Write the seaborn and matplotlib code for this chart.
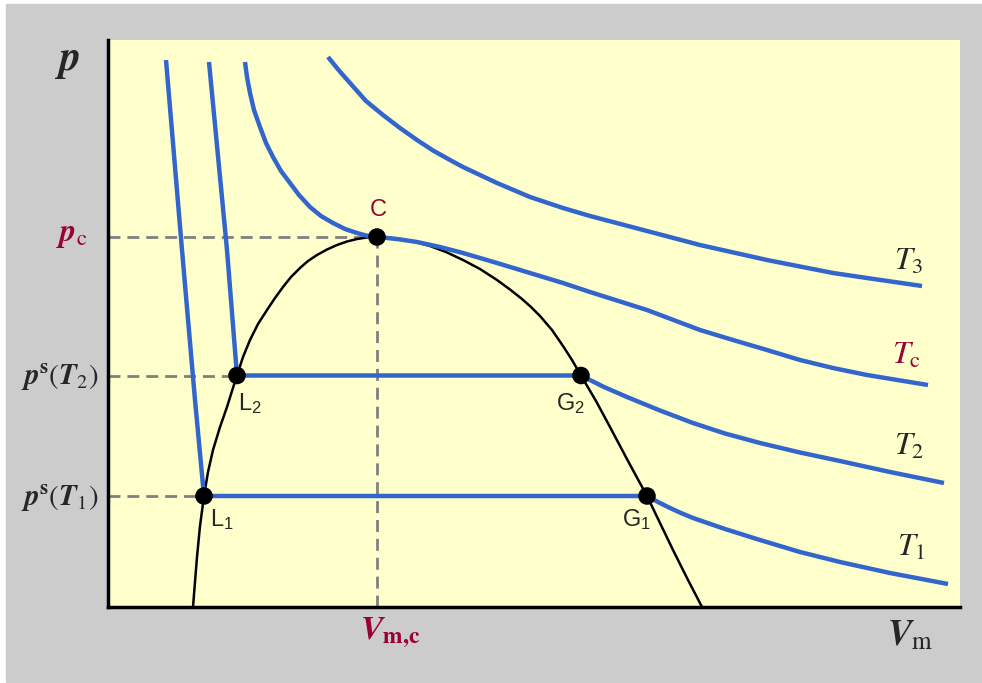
import matplotlib
matplotlib.use("Agg")
import matplotlib.pyplot as plt
import seaborn as sns
from matplotlib.patches import Rectangle

# --- data (V and p in arbitrary units) ---
# isotherm T1: liquid branch, then gas branch (joined by the tie line L1-G1)
t1_liq_v = [0.58, 0.74, 0.87, 0.96]
t1_liq_p = [5.47, 3.57, 2.07, 1.11]
t1_gas_v = [5.39, 5.50, 5.62, 5.73, 5.85, 6.17, 6.52, 6.92, 7.32, 7.82, 8.40]
t1_gas_p = [1.11, 1.05, 0.99, 0.94, 0.89, 0.78, 0.67, 0.55, 0.45, 0.34, 0.23]

# isotherm T2
t2_liq_v = [1.01, 1.19, 1.29]
t2_liq_p = [5.45, 3.57, 2.315]
t2_gas_v = [4.73, 4.96, 5.19, 5.52, 5.85, 6.17, 6.52, 6.92, 7.32, 7.82, 8.36]
t2_gas_p = [2.315, 2.20, 2.10, 1.965, 1.84, 1.735, 1.64, 1.545, 1.46, 1.35, 1.24]

# critical isotherm Tc
tc_v = [1.37, 1.39, 1.42, 1.46, 1.52, 1.58, 1.65, 1.73, 1.82, 1.91, 2.02,
        2.13, 2.25, 2.37, 2.49, 2.58, 2.69, 2.89, 3.09, 3.32, 3.55, 3.89,
        4.22, 4.55, 4.82, 5.39, 5.92, 6.25, 6.59, 6.92, 7.25, 7.59, 8.20]
tc_p = [5.45, 5.30, 5.14, 4.97, 4.80, 4.64, 4.50, 4.36, 4.24, 4.12, 4.00,
        3.91, 3.84, 3.78, 3.74, 3.715, 3.70, 3.68, 3.65, 3.60, 3.54, 3.44,
        3.34, 3.24, 3.15, 2.97, 2.77, 2.67, 2.57, 2.47, 2.39, 2.32, 2.22]

# isotherm T3
t3_v = [2.20, 2.31, 2.42, 2.58, 2.75, 2.92, 3.09, 3.25, 3.42, 3.55, 3.89,
        4.22, 4.55, 4.82, 5.39, 5.92, 6.59, 7.25, 7.59, 8.14]
t3_p = [5.50, 5.365, 5.24, 5.06, 4.92, 4.79, 4.67, 4.565, 4.47, 4.40, 4.24,
        4.10, 3.99, 3.91, 3.76, 3.62, 3.47, 3.34, 3.29, 3.21]

# coexistence curve
coex_v = [0.85, 0.87, 0.89, 0.92, 0.96, 1.00, 1.05, 1.12, 1.19, 1.24, 1.29,
          1.35, 1.42, 1.50, 1.59, 1.67, 1.75, 1.83, 1.92, 2.00, 2.09, 2.19,
          2.29, 2.39, 2.49, 2.59, 2.69, 2.80, 2.92, 3.07, 3.22, 3.38, 3.55,
          3.72, 3.89, 4.02, 4.14, 4.23, 4.32, 4.44, 4.55, 4.64, 4.73, 4.88,
          5.02, 5.20, 5.39, 5.52, 5.65, 5.79, 5.94]
coex_p = [0.00, 0.25, 0.50, 0.81, 1.11, 1.35, 1.57, 1.80, 2.00, 2.16, 2.315,
          2.50, 2.67, 2.83, 2.97, 3.09, 3.20, 3.30, 3.39, 3.46, 3.52, 3.575,
          3.62, 3.655, 3.68, 3.695, 3.70, 3.695, 3.68, 3.65, 3.61, 3.55, 3.47,
          3.38, 3.27, 3.175, 3.08, 3.00, 2.91, 2.77, 2.61, 2.47, 2.315, 2.06,
          1.80, 1.46, 1.11, 0.84, 0.57, 0.29, 0.00]

# special points
crit_v, crit_p = 2.69, 3.70
sat_p = [2.315, 1.11]        # p^s(T2), p^s(T1)
liq_v = [1.29, 0.96]         # L2, L1
gas_v = [4.73, 5.39]         # G2, G1

BLUE = "#3366cc"
CRIMSON = "#990033"
YELLOW = "#ffffcc"
GREY_BG = "#cccccc"
W, H = 982, 683

sns.set_style("white")
plt.rcParams["mathtext.fontset"] = "custom"
plt.rcParams["mathtext.rm"] = "STIXGeneral"
plt.rcParams["mathtext.it"] = "STIXGeneral:italic"
plt.rcParams["mathtext.bf"] = "STIXGeneral:italic:bold"
plt.rcParams["mathtext.sf"] = "STIXGeneral:bold"

fig = plt.figure(figsize=(W / 100, H / 100), dpi=100)
fig.patch.set_facecolor("white")
fig.patches.append(Rectangle((6 / W, 0.002), 1, 1 - 4 / H - 0.002,
                             transform=fig.transFigure, color=GREY_BG, zorder=-10))

ax = fig.add_axes([108 / W, 1 - 607 / H, 852 / W, 567 / H])
ax.set_facecolor(YELLOW)
ax.set_xlim(0, 8.52)
ax.set_ylim(0, 5.67)

# dashed guide lines
dash_kw = dict(color="#808080", lw=2, dashes=(4.3, 2.5), zorder=1)
ax.plot([0, crit_v], [crit_p, crit_p], **dash_kw)
ax.plot([crit_v, crit_v], [0, crit_p], **dash_kw)
for p, v in zip(sat_p, liq_v):
    ax.plot([0, v], [p, p], **dash_kw)

# coexistence curve
sns.lineplot(x=coex_v, y=coex_p, sort=False, estimator=None, color="black",
             lw=1.8, ax=ax, zorder=2)

# isotherms
line_kw = dict(sort=False, estimator=None, color=BLUE, lw=3.2, ax=ax,
               zorder=3, solid_capstyle="butt", solid_joinstyle="round")
sns.lineplot(x=t1_liq_v + t1_gas_v, y=t1_liq_p + t1_gas_p, **line_kw)
sns.lineplot(x=t2_liq_v + t2_gas_v, y=t2_liq_p + t2_gas_p, **line_kw)
sns.lineplot(x=tc_v, y=tc_p, **line_kw)
sns.lineplot(x=t3_v, y=t3_p, **line_kw)

# points C, L, G
sns.scatterplot(x=[crit_v] + liq_v + gas_v, y=[crit_p] + sat_p + sat_p,
                s=160, color="black", edgecolor="none", ax=ax, zorder=4)

# point labels
pt_kw = dict(fontsize=17, family=["Liberation Sans", "DejaVu Sans"],
             ha="center", va="center", zorder=5)
ax.text(2.70, 3.97, "C", color=CRIMSON, **pt_kw)
ax.text(1.42, 2.03, r"$\mathregular{L_2}$", **pt_kw)
ax.text(4.62, 2.03, r"$\mathregular{G_2}$", **pt_kw)
ax.text(1.14, 0.87, r"$\mathregular{L_1}$", **pt_kw)
ax.text(5.28, 0.87, r"$\mathregular{G_1}$", **pt_kw)

# isotherm labels
t_kw = dict(fontsize=23, ha="center", va="center")
ax.text(8.01, 3.46, r"$\mathit{T}_3$", **t_kw)
ax.text(7.98, 2.52, r"$\mathit{T}_{\mathrm{c}}$", color=CRIMSON, **t_kw)
ax.text(8.01, 1.61, r"$\mathit{T}_2$", **t_kw)
ax.text(8.03, 0.60, r"$\mathit{T}_1$", **t_kw)

# axis and value labels
ax.set_xticks([])
ax.set_yticks([])
fig.text(72 / W, 1 - 235 / H, r"$\mathbf{p}_{\mathrm{c}}$", fontsize=23,
         color=CRIMSON, ha="center", va="center")
fig.text(98 / W, 1 - 378 / H, r"$\mathbf{p}^{\mathsf{s}}(\mathbf{T}_2)$",
         fontsize=21, ha="right", va="center")
fig.text(98 / W, 1 - 499 / H, r"$\mathbf{p}^{\mathsf{s}}(\mathbf{T}_1)$",
         fontsize=21, ha="right", va="center")
fig.text(360 / W, 1 - 633 / H, r"$\mathbf{V}_{\mathsf{m,\!c}}$", fontsize=24,
         color=CRIMSON, ha="left", va="center")
fig.text(67 / W, 1 - 60 / H, r"$\mathbf{p}$", fontsize=30, ha="center", va="center")
fig.text(910 / W, 1 - 635 / H, r"$\mathbf{V}_{\mathrm{m}}$", fontsize=26,
         ha="center", va="center")

for side in ["top", "right"]:
    ax.spines[side].set_visible(False)
for side in ["left", "bottom"]:
    ax.spines[side].set_color("black")
    ax.spines[side].set_linewidth(2.5)

fig.savefig("out.png", dpi=100, facecolor=fig.get_facecolor())
